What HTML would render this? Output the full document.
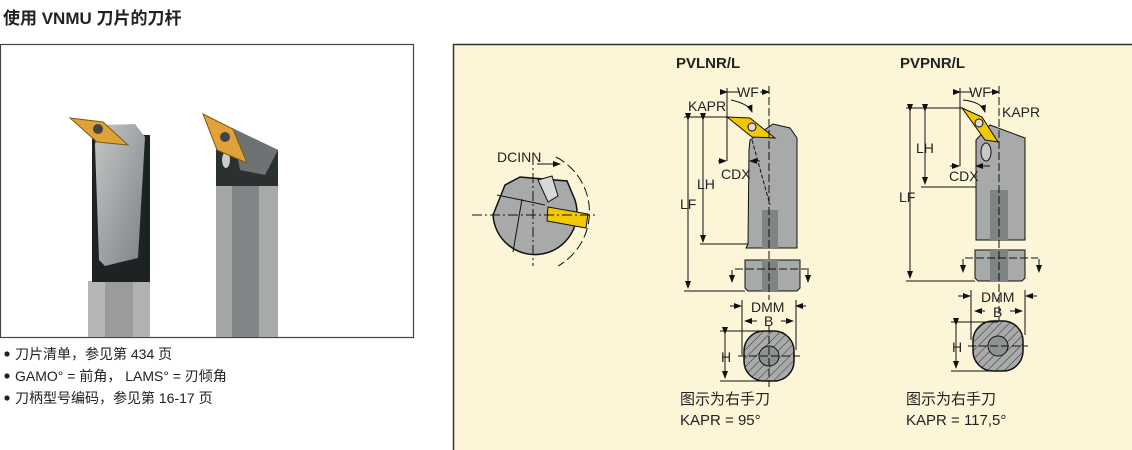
<!DOCTYPE html>
<html><head><meta charset="utf-8"><style>
html,body{margin:0;padding:0;background:#fff;}
svg{display:block;}
text{font-family:"Liberation Sans","Noto Sans CJK SC",sans-serif;fill:#222;}
</style></head><body>
<svg width="1132" height="450" viewBox="0 0 1132 450" xmlns="http://www.w3.org/2000/svg">
<defs>
<pattern id="hat" width="6" height="6" patternUnits="userSpaceOnUse" patternTransform="rotate(45)">
<rect width="6" height="6" fill="#a9abaa"/><line x1="0" y1="0" x2="0" y2="6" stroke="#333" stroke-width="1"/>
</pattern>
<marker id="ar" markerWidth="8" markerHeight="8" refX="7" refY="4" orient="auto" markerUnits="userSpaceOnUse"><path d="M0,1 L8,4 L0,7 Z" fill="#111"/></marker>
<linearGradient id="g1" x1="0" x2="1" y1="0" y2="1"><stop offset="0" stop-color="#c4c6c7"/><stop offset="1" stop-color="#7d8284"/></linearGradient>
</defs>
<text x="3" y="24" font-size="17" font-weight="bold">使用 VNMU 刀片的刀杆</text>

<rect x="0.5" y="44.5" width="413" height="293" fill="#fff" stroke="#444" stroke-width="1.2"/>
<!-- tool 1 -->
<rect x="88" y="281" width="62" height="56" fill="#9a9c9c"/>
<rect x="88" y="281" width="17" height="56" fill="#b5b7b7"/>
<rect x="133" y="281" width="17" height="56" fill="#b0b2b2"/>
<rect x="92" y="135" width="58" height="147" fill="#1d2222"/>
<polygon points="95,145 98,125 135,124 145,137 138,258 105,266 99,260" fill="url(#g1)"/>
<polygon points="70,118 103,122 128,145 97,142" fill="#e0a13a" stroke="#7a5a10" stroke-width="1"/>
<circle cx="98" cy="129" r="5" fill="#444"/>
<!-- tool 2 -->
<rect x="216" y="185" width="62" height="152" fill="#808688"/>
<rect x="216" y="185" width="16" height="152" fill="#a5a7a6"/>
<rect x="259" y="185" width="19" height="152" fill="#a8aaa9"/>
<polygon points="216,140 232,128 278,150 278,186 216,186" fill="#2b3030"/>
<polygon points="232,128 278,150 265,175 240,170" fill="#6d7374"/>
<ellipse cx="226" cy="160" rx="4" ry="8" fill="#ccc"/>
<polygon points="203,114 233,129 247,163 217,150" fill="#e0a13a" stroke="#7a5a10" stroke-width="1"/>
<circle cx="225" cy="137" r="5" fill="#444"/>

<g font-size="14">
<circle cx="7" cy="354" r="2.6" fill="#222"/><text x="15" y="359">刀片清单，参见第 434 页</text>
<circle cx="7" cy="376" r="2.6" fill="#222"/><text x="15" y="381">GAMO° = 前角， LAMS° = 刃倾角</text>
<circle cx="7" cy="398" r="2.6" fill="#222"/><text x="15" y="403">刀柄型号编码，参见第 16-17 页</text>
</g>

<rect x="453.5" y="44.5" width="680" height="410" fill="#fdf5d8" stroke="#333" stroke-width="1.5"/>

<!-- DCINN -->
<g stroke="#111" stroke-width="1">
<path d="M493,215 A42,42 0 1 0 575,200 L567,181 L520,177 L505,185 Z" fill="#a8aaa9" stroke-width="1.5"/>
<polygon points="538,180 552,176 558,196 548,202" fill="#d8d8d8"/>
<polygon points="548,207 588,214 586,228 547,221" fill="#f3c800"/>
<line x1="497" y1="195" x2="545" y2="205"/>
<line x1="522" y1="199" x2="513" y2="252"/>
<line x1="472" y1="215" x2="598" y2="215" stroke-dasharray="10,3,2,3"/>
<line x1="533" y1="155" x2="533" y2="266" stroke-dasharray="10,3,2,3"/>
<path d="M556,157 A62,62 0 0 1 558,266" fill="none" stroke-dasharray="10,4"/>
<path d="M537,164 L560,164" fill="none" marker-end="url(#ar)"/>
</g>
<text x="497" y="162" font-size="14">DCINN</text>

<!-- PVLNR/L -->
<text x="676" y="68" font-size="15" font-weight="bold">PVLNR/L</text>
<g stroke="#111" stroke-width="1" fill="none">
<polygon points="750,140 773,124 790,128 797,138 797,248 746,248 748,244 749,150" fill="#a8aaa9"/>
<rect x="762" y="210" width="16" height="38" fill="#7e8383" stroke="none"/>
<polygon points="745,260 800,260 800,288 797,291 748,291 745,288" fill="#a8aaa9"/>
<rect x="762" y="260" width="16" height="31" fill="#7e8383" stroke="none"/>
<line x1="752" y1="140" x2="770" y2="205" stroke-dasharray="4,2"/>
<polygon points="727,117 750,118 775,138 752,137" fill="#f3c800"/>
<circle cx="752" cy="127" r="4" fill="#ddd"/>
<line x1="727" y1="88" x2="727" y2="117"/>
<line x1="769" y1="86" x2="769" y2="300" stroke-dasharray="8,3"/>
<line x1="727" y1="92" x2="740" y2="92" marker-start="url(#ar)"/>
<line x1="760" y1="92" x2="769" y2="92" marker-end="url(#ar)"/>
<path d="M731,100 Q749,104 752,112" marker-end="url(#ar)"/>
<line x1="684" y1="117" x2="727" y2="117"/>
<line x1="688" y1="120" x2="688" y2="288" marker-start="url(#ar)" marker-end="url(#ar)"/>
<line x1="703" y1="120" x2="703" y2="242" marker-start="url(#ar)" marker-end="url(#ar)"/>
<line x1="700" y1="244" x2="748" y2="244"/>
<line x1="684" y1="291" x2="745" y2="291"/>
<line x1="727" y1="117" x2="727" y2="161"/>
<line x1="718" y1="161" x2="726" y2="161" marker-end="url(#ar)"/>
<line x1="760" y1="161" x2="750" y2="161" marker-end="url(#ar)"/>
<line x1="735" y1="269" x2="812" y2="269" stroke-dasharray="8,3"/>
<line x1="732" y1="270" x2="732" y2="282" marker-end="url(#ar)"/>
<line x1="808" y1="270" x2="808" y2="282" marker-end="url(#ar)"/>
<line x1="730" y1="306" x2="741" y2="306" marker-end="url(#ar)"/>
<line x1="806" y1="306" x2="796" y2="306" marker-end="url(#ar)"/>
<line x1="742" y1="300" x2="742" y2="355"/>
<line x1="796" y1="300" x2="796" y2="350"/>
<line x1="757" y1="321" x2="745" y2="321" marker-end="url(#ar)"/>
<line x1="781" y1="321" x2="793" y2="321" marker-end="url(#ar)"/>
<rect x="744" y="331" width="50" height="50" rx="20" fill="url(#hat)" stroke-width="1.5"/>
<circle cx="769" cy="356" r="10" fill="#8e9191"/>
<line x1="738" y1="356" x2="800" y2="356" stroke-dasharray="8,3"/>
<line x1="769" y1="325" x2="769" y2="387" stroke-dasharray="8,3"/>
<line x1="720" y1="331" x2="769" y2="331"/>
<line x1="720" y1="381" x2="769" y2="381"/>
<line x1="725" y1="334" x2="725" y2="378" marker-start="url(#ar)" marker-end="url(#ar)"/>
</g>
<g font-size="14">
<text x="737" y="97">WF</text>
<text x="688" y="111">KAPR</text>
<text x="697" y="189">LH</text>
<text x="680" y="209">LF</text>
<text x="721" y="179">CDX</text>
<text x="751" y="312">DMM</text>
<text x="764" y="326">B</text>
<text x="721" y="362">H</text>
</g>
<text x="680" y="404" font-size="15">图示为右手刀</text>
<text x="680" y="425" font-size="15">KAPR = 95°</text>

<!-- PVPNR/L -->
<text x="900" y="68" font-size="15" font-weight="bold">PVPNR/L</text>
<g stroke="#111" stroke-width="1" fill="none">
<polygon points="976,140 990,125 1025,138 1025,240 976,240" fill="#a8aaa9"/>
<rect x="990" y="190" width="18" height="50" fill="#7e8383" stroke="none"/>
<polygon points="975,250 1025,250 1025,278 1022,281 978,281 975,278" fill="#a8aaa9"/>
<rect x="990" y="250" width="18" height="31" fill="#7e8383" stroke="none"/>
<ellipse cx="986" cy="152" rx="5" ry="9" fill="#c9c9c9"/>
<polygon points="962,108 982,117 998,142 985,140" fill="#f3c800"/>
<circle cx="979" cy="123" r="4" fill="#ddd"/>
<line x1="960" y1="88" x2="960" y2="108"/>
<line x1="999" y1="86" x2="999" y2="340" stroke-dasharray="8,3"/>
<line x1="960" y1="92" x2="972" y2="92" marker-start="url(#ar)"/>
<line x1="990" y1="92" x2="999" y2="92" marker-end="url(#ar)"/>
<path d="M963,100 Q982,102 985,112" marker-end="url(#ar)"/>
<line x1="906" y1="108" x2="962" y2="108"/>
<line x1="910" y1="111" x2="910" y2="278" marker-start="url(#ar)" marker-end="url(#ar)"/>
<line x1="925" y1="111" x2="925" y2="184" marker-start="url(#ar)" marker-end="url(#ar)"/>
<line x1="921" y1="187" x2="976" y2="187"/>
<line x1="906" y1="281" x2="975" y2="281"/>
<line x1="960" y1="108" x2="960" y2="166"/>
<line x1="950" y1="166" x2="959" y2="166" marker-end="url(#ar)"/>
<line x1="990" y1="166" x2="976" y2="166" marker-end="url(#ar)"/>
<line x1="965" y1="258" x2="1038" y2="258" stroke-dasharray="8,3"/>
<line x1="963" y1="259" x2="963" y2="272" marker-end="url(#ar)"/>
<line x1="1039" y1="259" x2="1039" y2="272" marker-end="url(#ar)"/>
<line x1="958" y1="296" x2="970" y2="296" marker-end="url(#ar)"/>
<line x1="1037" y1="296" x2="1026" y2="296" marker-end="url(#ar)"/>
<line x1="971" y1="290" x2="971" y2="340"/>
<line x1="1025" y1="290" x2="1025" y2="335"/>
<line x1="985" y1="311" x2="975" y2="311" marker-end="url(#ar)"/>
<line x1="1010" y1="311" x2="1022" y2="311" marker-end="url(#ar)"/>
<rect x="973" y="321" width="50" height="50" rx="20" fill="url(#hat)" stroke-width="1.5"/>
<circle cx="998" cy="346" r="10" fill="#8e9191"/>
<line x1="968" y1="346" x2="1028" y2="346" stroke-dasharray="8,3"/>
<line x1="951" y1="322" x2="998" y2="322"/>
<line x1="951" y1="371" x2="998" y2="371"/>
<line x1="956" y1="325" x2="956" y2="368" marker-start="url(#ar)" marker-end="url(#ar)"/>
</g>
<g font-size="14">
<text x="969" y="97">WF</text>
<text x="1002" y="117">KAPR</text>
<text x="916" y="153">LH</text>
<text x="899" y="202">LF</text>
<text x="949" y="181">CDX</text>
<text x="981" y="302">DMM</text>
<text x="993" y="317">B</text>
<text x="952" y="352">H</text>
</g>
<text x="906" y="404" font-size="15">图示为右手刀</text>
<text x="906" y="425" font-size="15">KAPR = 117,5°</text>
</svg>
</body></html>
